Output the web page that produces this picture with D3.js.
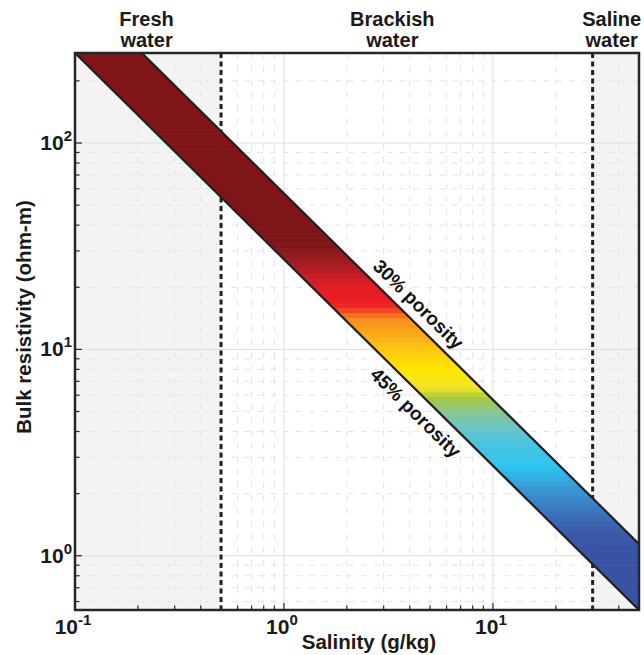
<!DOCTYPE html>
<html>
<head>
<meta charset="utf-8">
<script src="https://cdn.jsdelivr.net/npm/d3@7"></script>
<style>
  body { margin: 0; background: #fff; }
  svg { display: block; font-family: "Liberation Sans", Arial, sans-serif; }
</style>
</head>
<body>
<div id="chart"></div>
<script>
// ── Data ──────────────────────────────────────────────────────────────
const salinityEnds   = [0.1, 50];        // g/kg, ends of the porosity lines
const rho30          = [570, 1.14];      // ohm-m at the two ends, 30% porosity
const rho45          = [273, 0.546];     // ohm-m at the two ends, 45% porosity
const zoneEdges      = [0.5, 30];        // fresh | brackish | saline
const zoneNames      = [["Fresh", "water"], ["Brackish", "water"], ["Saline", "water"]];
const zoneLabelAt    = [0.22, 3.3, 37];  // salinity of label centres
const xTicks         = [0.1, 1, 10];
const xTickExp       = ["-1", "0", "1"];
const yTicks         = [1, 10, 100];
const yTickExp       = ["0", "1", "2"];
const porosityLabels = ["30% porosity", "45% porosity"];
const porosityLabelAt = [3.9, 4.85];     // salinity of label centres

// colour of the band against bulk resistivity
const colorRho = [32.1, 26.2, 20.1, 17.4, 15.9, 15.2, 13.9, 11.1, 9.2, 7.95, 6.58, 6.22, 5.89, 5.09, 4.40, 3.52, 2.69, 2.16, 1.67, 1.29, 1.07];
const colorHex = ["#7f1518", "#a31d22", "#e41e26", "#ec1c24", "#ee2f24", "#f05a22", "#f7901e", "#fbb616", "#fdd30b", "#fee800", "#f1e62a", "#d4dc30", "#a9c93c", "#8ec78a", "#72c6bb", "#48c4e0", "#2ec5f0", "#3a9ad6", "#3c78be", "#3a5aa8", "#3953a4"];

// ── Layout ────────────────────────────────────────────────────────────
const W = 644, H = 655;
const mLeft = 75, mTop = 53, mRight = 639, mBottom = 610;
const ink = "#231f20";

const x = d3.scaleLog().domain([0.1, 50]).range([mLeft, mRight]);
const y = d3.scaleLog().domain([0.546, 273]).range([mBottom, mTop]);

const color = d3.scaleLinear()
  .domain(colorRho.map(Math.log10))
  .range(colorHex)
  .clamp(true);

const svg = d3.select("#chart").append("svg")
  .attr("width", W).attr("height", H);

const defs = svg.append("defs");
defs.append("clipPath").attr("id", "plot")
  .append("rect")
  .attr("x", mLeft).attr("y", mTop)
  .attr("width", mRight - mLeft).attr("height", mBottom - mTop);

// band polygon between the two porosity lines
const bandPts = [
  [salinityEnds[0], rho45[0]], [salinityEnds[1], rho45[1]],
  [salinityEnds[1], rho30[1]], [salinityEnds[0], rho30[0]]
];
const lineGen = d3.line().x(d => x(d[0])).y(d => y(d[1]));
defs.append("clipPath").attr("id", "band")
  .append("path").attr("d", lineGen(bandPts) + "Z");

const plot = svg.append("g").attr("clip-path", "url(#plot)");

// ── Zone shading ──────────────────────────────────────────────────────
plot.append("rect")
  .attr("x", x(0.1)).attr("y", mTop)
  .attr("width", x(zoneEdges[0]) - x(0.1)).attr("height", mBottom - mTop)
  .attr("fill", "#f3f3f3");
plot.append("rect")
  .attr("x", x(zoneEdges[1])).attr("y", mTop)
  .attr("width", x(50) - x(zoneEdges[1])).attr("height", mBottom - mTop)
  .attr("fill", "#f3f3f3");

// ── Grid ──────────────────────────────────────────────────────────────
const xAll = x.ticks().filter(v => v > 0.1 && v < 50);
const yAll = y.ticks().filter(v => v > 0.546 && v < 273);
const isMajor = v => Math.abs(Math.log10(v) - Math.round(Math.log10(v))) < 1e-6;

plot.selectAll(".gx").data(xAll).join("line").attr("class", "gx")
  .attr("x1", d => x(d)).attr("x2", d => x(d))
  .attr("y1", mTop).attr("y2", mBottom)
  .attr("stroke", d => isMajor(d) ? "#dedede" : "#e4e4e4")
  .attr("stroke-width", 1)
  .attr("stroke-dasharray", d => isMajor(d) ? null : "6,7");

plot.selectAll(".gy").data(yAll).join("line").attr("class", "gy")
  .attr("y1", d => y(d)).attr("y2", d => y(d))
  .attr("x1", mLeft).attr("x2", mRight)
  .attr("stroke", d => isMajor(d) ? "#dedede" : "#e4e4e4")
  .attr("stroke-width", 1)
  .attr("stroke-dasharray", d => isMajor(d) ? null : "6,7");

// ── Zone boundaries ───────────────────────────────────────────────────
plot.selectAll(".zone").data(zoneEdges).join("line").attr("class", "zone")
  .attr("x1", d => x(d)).attr("x2", d => x(d))
  .attr("y1", mTop).attr("y2", mBottom)
  .attr("stroke", ink).attr("stroke-width", 3)
  .attr("stroke-dasharray", "5,3.5");

// ── Band, drawn as thin horizontal stripes ────────────────────────────
const step = 0.024;
const lo = Math.log10(0.546), hi = Math.log10(273);
const stripes = d3.range(lo, hi, step);
plot.append("g").attr("clip-path", "url(#band)")
  .selectAll("rect").data(stripes).join("rect")
  .attr("x", mLeft).attr("width", mRight - mLeft)
  .attr("y", d => y(Math.pow(10, Math.min(d + step, hi))) - 0.3)
  .attr("height", d => y(Math.pow(10, d)) - y(Math.pow(10, Math.min(d + step, hi))) + 0.6)
  .attr("fill", d => color(d + step / 2));

[rho30, rho45].forEach(r => {
  plot.append("path")
    .attr("d", lineGen([[salinityEnds[0], r[0]], [salinityEnds[1], r[1]]]))
    .attr("fill", "none").attr("stroke", ink).attr("stroke-width", 2.2);
});

// ── Porosity labels ───────────────────────────────────────────────────
const ang = Math.atan2(y(1) - y(10), x(10) - x(1)) * 180 / Math.PI;
[rho30, rho45].forEach((r, i) => {
  const k = r[0] * salinityEnds[0];
  const s = porosityLabelAt[i];
  svg.append("text")
    .attr("transform", `translate(${x(s)},${y(k / s)}) rotate(${ang})`)
    .attr("x", 0).attr("y", i === 0 ? -9 : 23)
    .attr("text-anchor", "middle")
    .attr("font-size", "19px").attr("font-weight", "bold")
    .attr("fill", "#111")
    .text(porosityLabels[i]);
});

// ── Axes box and ticks ────────────────────────────────────────────────
svg.append("rect")
  .attr("x", mLeft).attr("y", mTop)
  .attr("width", mRight - mLeft).attr("height", mBottom - mTop)
  .attr("fill", "none").attr("stroke", "#262626").attr("stroke-width", 2.5);

svg.selectAll(".tx").data(xAll).join("line").attr("class", "tx")
  .attr("x1", d => x(d)).attr("x2", d => x(d))
  .attr("y1", mBottom).attr("y2", d => mBottom - (isMajor(d) ? 7 : 4.5))
  .attr("stroke", "#262626").attr("stroke-width", 1.2);

svg.selectAll(".ty").data(yAll).join("line").attr("class", "ty")
  .attr("y1", d => y(d)).attr("y2", d => y(d))
  .attr("x1", mLeft).attr("x2", d => mLeft + (isMajor(d) ? 7 : 4.5))
  .attr("stroke", "#262626").attr("stroke-width", 1.2);

// tick labels with superscript exponents
xTicks.forEach((v, i) => {
  const t = svg.append("text")
    .attr("x", x(v) - 2).attr("y", 634)
    .attr("text-anchor", "middle")
    .attr("font-size", "21px").attr("font-weight", "bold").attr("fill", "#1a1a1a");
  t.append("tspan").text("10");
  t.append("tspan").attr("dy", -9).attr("font-size", "15px").text(xTickExp[i]);
});

yTicks.forEach((v, i) => {
  const t = svg.append("text")
    .attr("x", 72).attr("y", y(v) + 7)
    .attr("text-anchor", "end")
    .attr("font-size", "21px").attr("font-weight", "bold").attr("fill", "#1a1a1a");
  t.append("tspan").text("10");
  t.append("tspan").attr("dy", -9).attr("font-size", "15px").text(yTickExp[i]);
});

// ── Axis titles ───────────────────────────────────────────────────────
svg.append("text")
  .attr("x", 369).attr("y", 649)
  .attr("text-anchor", "middle")
  .attr("font-size", "20.5px").attr("font-weight", "bold").attr("fill", "#1a1a1a")
  .text("Salinity (g/kg)");

svg.append("text")
  .attr("transform", `translate(31,317) rotate(-90)`)
  .attr("text-anchor", "middle")
  .attr("font-size", "20.5px").attr("font-weight", "bold").attr("fill", "#1a1a1a")
  .text("Bulk resistivity (ohm-m)");

// ── Zone titles, one text per line ────────────────────────────────────
zoneNames.forEach((lines, i) => {
  lines.forEach((s, j) => {
    svg.append("text")
      .attr("x", x(zoneLabelAt[i])).attr("y", 26 + j * 21)
      .attr("text-anchor", "middle")
      .attr("font-size", "20px").attr("font-weight", "bold").attr("fill", "#1a1a1a")
      .text(s);
  });
});
</script>
</body>
</html>
